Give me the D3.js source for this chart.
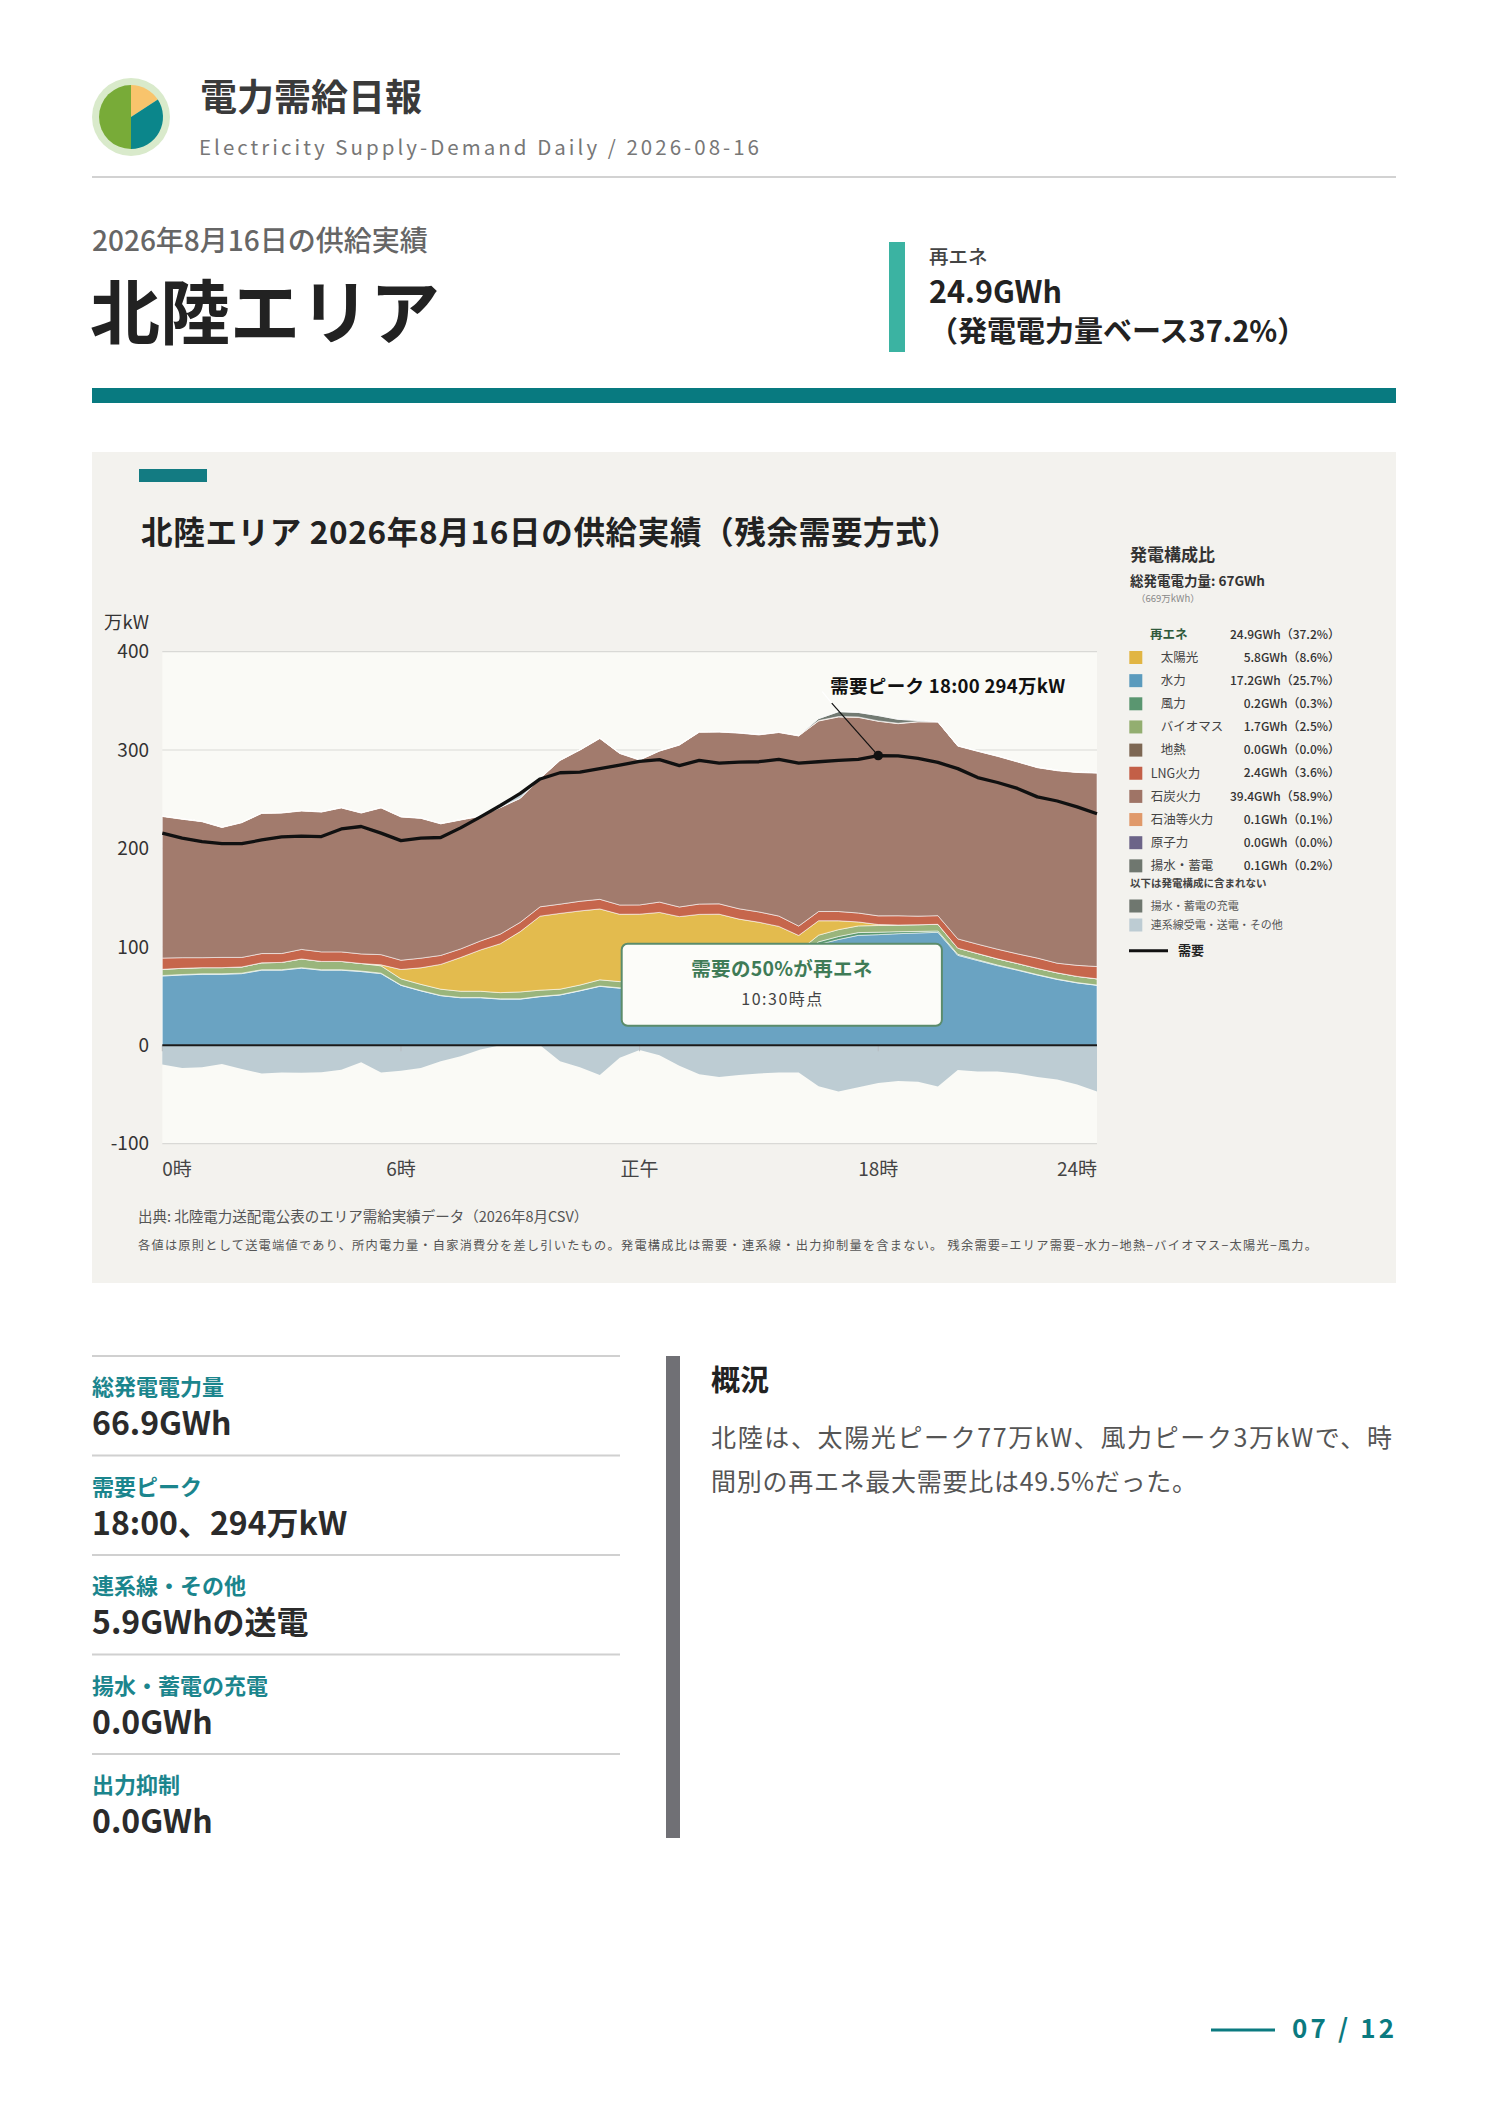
<!doctype html>
<html lang="ja">
<head>
<meta charset="utf-8">
<title>電力需給日報 北陸エリア 2026-08-16</title>
<script src="https://cdn.jsdelivr.net/npm/d3@7"></script>
<style>
  body { margin: 0; background: #fff; }
  svg { display: block; font-family: "Noto Sans CJK JP", "Noto Sans", sans-serif; }
</style>
</head>
<body>
<svg id="page" width="1488" height="2105"></svg>
<script>
// 30分値（万kW）, 0:00 〜 23:30
var demand = [215.6,210.4,206.9,204.8,204.8,208.6,211.8,212.5,212.1,219.8,222.3,215.6,207.9,210.4,211.1,220.9,232.1,243.6,255.9,270.6,276.9,277.6,281.1,284.6,288.5,290.2,284.2,289.5,286.7,287.7,288.1,290.5,286.7,288.1,289.5,290.5,294.4,294.0,291.6,287.4,281.1,272.0,267.0,261.0,252.4,248.2,242.2,235.2];
var hydro = [70.4,71.4,72.1,72.1,72.8,76.3,76.3,78.4,76.3,76.3,74.9,72.8,60.9,55.3,50.4,48.3,48.3,46.9,46.9,49.4,51.1,55.3,59.9,58.0,58.0,59.5,61.0,65.7,70.7,73.4,75.9,79.4,86.9,102.4,107.5,111.7,112.4,113.4,114.1,114.8,91.4,86.1,80.9,76.3,71.4,66.9,63.4,60.9];
var wind = [0.5,0.5,0.5,0.5,0.5,0.5,0.5,0.5,0.5,0.5,0.5,0.5,0.3,0.3,0.3,0.3,0.3,0.3,0.3,0.3,0.3,0.3,0.3,0.4,0.5,0.6,0.8,1.0,1.2,1.5,1.8,2.1,2.4,2.7,3.0,2.8,2.5,2.0,1.6,1.3,1.0,0.8,0.6,0.5,0.4,0.4,0.3,0.3];
var biomass = [6.3,6.3,6.3,6.3,6.3,7.0,7.4,8.8,8.4,8.4,7.7,7.4,6.3,6.3,6.3,6.3,6.3,6.3,7.0,6.3,5.6,5.6,6.3,6.3,6.3,6.3,6.3,6.3,6.3,6.3,6.3,6.3,6.3,6.8,7.0,6.8,6.8,6.8,6.8,6.8,6.3,6.3,6.3,6.3,6.3,6.3,6.3,6.3];
var solar = [0,0,0,0,0,0,0,0,0,0,0,1.0,9.5,16.8,25.2,34.3,42.0,49.7,61.3,75.2,77.0,75.3,72.0,68.4,68.4,68.6,62.6,60.0,55.0,47.0,41.0,33.0,16.0,14.6,9.0,4.0,1.0,0,0,0,0,0,0,0,0,0,0,0];
var lng = [11.4,10.8,10.1,10.4,9.7,9.4,9.0,9.7,9.7,9.7,9.7,10.4,9.4,9.8,9.1,8.7,9.1,9.8,9.4,9.5,9.4,9.8,9.8,9.4,9.4,10.5,9.8,10.5,10.5,10.5,10.5,10.5,9.5,9.4,9.4,9.1,8.8,9.4,8.7,8.8,9.4,9.5,9.8,9.8,10.5,9.8,11.2,12.5];
var coal = [143.9,140.7,138.2,132.0,136.9,142.4,142.8,140.7,142.1,146.3,143.2,149.1,145.6,142.1,133.7,131.0,126.7,128.5,126.0,130.5,146.0,153.6,163.4,154.0,147.2,153.4,164.5,174.6,174.6,178.5,179.9,186.5,193.2,193.6,197.7,198.8,197.7,195.2,197.4,196.7,195.9,196.0,196.0,195.0,193.5,195.6,196.0,196.6];
var oil = [0.4,0.4,0.4,0.4,0.4,0.4,0.4,0.4,0.4,0.4,0.4,0.4,0.4,0.4,0.4,0.4,0.4,0.4,0.4,0.4,0.4,0.4,0.4,0.4,0.4,0.4,0.4,0.4,0.4,0.4,0.4,0.4,0.4,0.4,0.4,0.4,0.4,0.4,0.4,0.4,0.4,0.4,0.4,0.4,0.4,0.4,0.4,0.4];
var pumped = [0,0,0,0,0,0,0,0,0,0,0,0,0,0,0,0,0,0,0,0,0,0,0,0,0,0,0,0,0,0,0,0,0,2.0,5.0,4.6,5.4,4.0,1.0,0,0,0,0,0,0,0,0,0];
var tieline = [-19.6,-23.1,-22.4,-18.9,-24.2,-28.7,-27.7,-28.0,-27.3,-24.9,-17.2,-27.7,-25.9,-23.1,-16.1,-11.2,-4.2,1.7,4.6,0.0,-16.1,-22.4,-30.1,-12.6,-4.9,-10.2,-20.7,-29.4,-32.2,-30.1,-28.7,-27.7,-27.7,-41.7,-46.9,-42.7,-38.2,-36.4,-37.1,-42.0,-25.2,-26.6,-26.6,-28.7,-32.2,-34.7,-39.9,-46.9];

var yTicks = [400, 300, 200, 100, 0, -100];
var xTicks = [0, 12, 24, 36, 47];
var xTickLabels = ["0時", "6時", "正午", "18時", "24時"];

var legendRows = [
  { key: "solar",   name: "太陽光",     value: "5.8GWh（8.6%）",   sub: true },
  { key: "hydro",   name: "水力",       value: "17.2GWh（25.7%）", sub: true },
  { key: "wind",    name: "風力",       value: "0.2GWh（0.3%）",   sub: true },
  { key: "biomass", name: "バイオマス", value: "1.7GWh（2.5%）",   sub: true },
  { key: "geo",     name: "地熱",       value: "0.0GWh（0.0%）",   sub: true },
  { key: "lng",     name: "LNG火力",    value: "2.4GWh（3.6%）",   sub: false },
  { key: "coal",    name: "石炭火力",   value: "39.4GWh（58.9%）", sub: false },
  { key: "oil",     name: "石油等火力", value: "0.1GWh（0.1%）",   sub: false },
  { key: "nuclear", name: "原子力",     value: "0.0GWh（0.0%）",   sub: false },
  { key: "pumped",  name: "揚水・蓄電", value: "0.1GWh（0.2%）",   sub: false }
];
var stats = [
  { label: "総発電電力量",     value: "66.9GWh" },
  { label: "需要ピーク",       value: "18:00、294万kW" },
  { label: "連系線・その他",   value: "5.9GWhの送電" },
  { label: "揚水・蓄電の充電", value: "0.0GWh" },
  { label: "出力抑制",         value: "0.0GWh" }
];
var logoSlices = [57, 123, 180];

var colors = {
  hydro: "#6aa3c2", wind: "#5b9870", biomass: "#9ab57c", solar: "#e3bb4e",
  geo: "#7f6852", lng: "#c6664c", coal: "#a27b6d", oil: "#e09a6b",
  nuclear: "#6d668b", pumped: "#727a72", imp: "#bdccd3"
};
var legendColors = {
  hydro: "#5b9bbd", wind: "#5a9670", biomass: "#93ae70", solar: "#e1b543",
  geo: "#7d6753", lng: "#c35f47", coal: "#9f7466", oil: "#e0996a",
  nuclear: "#6c6488", pumped: "#6f776f"
};

var svg = d3.select("#page");

// ---- header ----
var logo = svg.append("g").attr("transform", "translate(131,117)");
logo.append("circle").attr("r", 39).attr("fill", "#d9eacb");
var pie = d3.pie().sort(null)(logoSlices);
var arc = d3.arc().innerRadius(0).outerRadius(32);
logo.selectAll("path").data(pie).enter().append("path")
  .attr("d", arc)
  .attr("fill", function (d, i) { return ["#f8c46c", "#0b868b", "#78ab38"][i]; });

svg.append("text").attr("x", 200).attr("y", 111).attr("font-size", 37).attr("font-weight", 700)
  .attr("fill", "#3a3a3a").text("電力需給日報");
svg.append("text").attr("x", 199).attr("y", 155).attr("font-size", 20.5).attr("fill", "#777")
  .attr("textLength", 560).attr("lengthAdjust", "spacing")
  .text("Electricity Supply-Demand Daily / 2026-08-16");
svg.append("line").attr("x1", 92).attr("x2", 1396).attr("y1", 177).attr("y2", 177)
  .attr("stroke", "#d2d2d2").attr("stroke-width", 2);

svg.append("text").attr("x", 92).attr("y", 251).attr("font-size", 28).attr("font-weight", 500)
  .attr("fill", "#666").text("2026年8月16日の供給実績");
svg.append("text").attr("x", 90).attr("y", 339).attr("font-size", 70).attr("font-weight", 700)
  .attr("fill", "#222").text("北陸エリア");

svg.append("rect").attr("x", 889).attr("y", 242).attr("width", 16).attr("height", 110).attr("fill", "#3bb3a2");
svg.append("text").attr("x", 929).attr("y", 264).attr("font-size", 19.5).attr("font-weight", 500)
  .attr("fill", "#444").text("再エネ");
svg.append("text").attr("x", 929).attr("y", 303).attr("font-size", 30.5).attr("font-weight", 700)
  .attr("fill", "#222").text("24.9GWh");
svg.append("text").attr("x", 929).attr("y", 342).attr("font-size", 29).attr("font-weight", 700)
  .attr("fill", "#222").text("（発電電力量ベース37.2%）");
svg.append("rect").attr("x", 92).attr("y", 388).attr("width", 1304).attr("height", 15).attr("fill", "#087a80");

// ---- chart panel ----
svg.append("rect").attr("x", 92).attr("y", 452).attr("width", 1304).attr("height", 831).attr("fill", "#f3f2ee");
svg.append("rect").attr("x", 139).attr("y", 469).attr("width", 68).attr("height", 13).attr("fill", "#137b82");
svg.append("text").attr("x", 141).attr("y", 544).attr("font-size", 31.5).attr("font-weight", 600)
  .attr("fill", "#222").attr("textLength", 818).attr("lengthAdjust", "spacing")
  .text("北陸エリア 2026年8月16日の供給実績（残余需要方式）");

var x = d3.scaleLinear().domain([0, 47]).range([162.3, 1097]);
var y = d3.scaleLinear().domain([-100, 400]).range([1143.7, 651.6]);

var chart = svg.append("g");
chart.append("rect").attr("x", x(0)).attr("y", y(400)).attr("width", x(47) - x(0))
  .attr("height", y(-100) - y(400)).attr("fill", "#fafaf6");

chart.selectAll("line.grid").data(yTicks.filter(function (t) { return t !== 0; })).enter()
  .append("line").attr("class", "grid")
  .attr("x1", x(0)).attr("x2", x(47))
  .attr("y1", function (d) { return y(d); }).attr("y2", function (d) { return y(d); })
  .attr("stroke", "#d9d9d6").attr("stroke-width", 1.2);

chart.selectAll("text.ytick").data(yTicks).enter().append("text").attr("class", "ytick")
  .attr("x", 149).attr("y", function (d) { return y(d); })
  .attr("dy", "0.35em").attr("text-anchor", "end").attr("font-size", 19).attr("fill", "#333")
  .text(function (d) { return d; });
chart.append("text").attr("x", 149).attr("y", 629).attr("text-anchor", "end")
  .attr("font-size", 18.5).attr("fill", "#333").text("万kW");

// stacked supply
var rows = demand.map(function (d, i) {
  return {
    i: i, hydro: hydro[i], wind: wind[i], biomass: biomass[i], solar: solar[i],
    lng: lng[i], coal: coal[i], oil: oil[i], pumped: pumped[i],
    imp: Math.max(0, tieline[i]), exp: Math.min(0, tieline[i])
  };
});
var keys = ["hydro", "wind", "biomass", "solar", "lng", "coal", "oil", "pumped", "imp"];
var stacked = d3.stack().keys(keys)(rows);
var area = d3.area()
  .x(function (d) { return x(d.data.i); })
  .y0(function (d) { return y(d[0]); })
  .y1(function (d) { return y(d[1]); });

chart.append("path").datum(rows)
  .attr("d", d3.area().x(function (d) { return x(d.i); }).y0(y(0)).y1(function (d) { return y(d.exp); }))
  .attr("fill", colors.imp);

chart.selectAll("path.layer").data(stacked).enter().append("path").attr("class", "layer")
  .attr("d", area)
  .attr("fill", function (d) { return colors[d.key]; })
  .attr("stroke", "#ffffff").attr("stroke-width", 0.8).attr("stroke-opacity", 0.7);

chart.selectAll("line.xt").data(xTicks.slice(0, 4)).enter().append("line").attr("class", "xt")
  .attr("x1", function (d) { return x(d); }).attr("x2", function (d) { return x(d); })
  .attr("y1", y(0)).attr("y2", y(0) + 6).attr("stroke", "#b8bcc0").attr("stroke-width", 1);

chart.append("line").attr("x1", x(0)).attr("x2", x(47)).attr("y1", y(0)).attr("y2", y(0))
  .attr("stroke", "#1a1a1a").attr("stroke-width", 2);

chart.selectAll("text.xtick").data(xTicks).enter().append("text").attr("class", "xtick")
  .attr("x", function (d) { return x(d); }).attr("y", 1169).attr("dy", "0.35em")
  .attr("text-anchor", function (d, i) { return i === 0 ? "start" : (i === xTicks.length - 1 ? "end" : "middle"); })
  .attr("font-size", 19).attr("fill", "#444")
  .text(function (d, i) { return xTickLabels[i]; });

// demand line
chart.append("path").datum(demand)
  .attr("d", d3.line().x(function (d, i) { return x(i); }).y(function (d) { return y(d); }))
  .attr("fill", "none").attr("stroke", "#111").attr("stroke-width", 3.3)
  .attr("stroke-linejoin", "round");

var peakI = d3.maxIndex(demand);
chart.append("line").attr("x1", x(peakI) - 56).attr("y1", y(400) + 40)
  .attr("x2", x(peakI) - 46.5).attr("y2", y(400) + 51.5)
  .attr("stroke", "#ffffff").attr("stroke-width", 1.2);
chart.append("line").attr("x1", x(peakI) - 46.5).attr("y1", y(400) + 51.5)
  .attr("x2", x(peakI)).attr("y2", y(demand[peakI]))
  .attr("stroke", "#111").attr("stroke-width", 1.2);
chart.append("circle").attr("cx", x(peakI)).attr("cy", y(demand[peakI])).attr("r", 4.8).attr("fill", "#111");
chart.append("text").attr("x", x(peakI) - 48).attr("y", y(400) + 41.5)
  .attr("font-size", 18.5).attr("font-weight", 700).attr("fill", "#111")
  .attr("textLength", 235).attr("lengthAdjust", "spacing")
  .text("需要ピーク 18:00 " + Math.round(demand[peakI]) + "万kW");

// renewable share callout
var bx0 = x(23.1), bx1 = x(39.2), by0 = y(103.2), by1 = y(19.9);
chart.append("rect").attr("x", bx0).attr("y", by0).attr("width", bx1 - bx0).attr("height", by1 - by0)
  .attr("rx", 6).attr("fill", "#fcfcf9").attr("stroke", "#5b8c6b").attr("stroke-width", 2);
chart.append("text").attr("x", (bx0 + bx1) / 2 - 90.5).attr("y", by0 + 32)
  .attr("font-size", 19.5).attr("font-weight", 700).attr("fill", "#3f7b57")
  .attr("textLength", 181).attr("lengthAdjust", "spacing").text("需要の50%が再エネ");
chart.append("text").attr("x", (bx0 + bx1) / 2 - 40.5).attr("y", by0 + 61)
  .attr("font-size", 16).attr("fill", "#444")
  .attr("textLength", 81).attr("lengthAdjust", "spacing").text("10:30時点");

// legend
var lg = svg.append("g");
lg.append("text").attr("x", 1130).attr("y", 561).attr("font-size", 17).attr("font-weight", 700)
  .attr("fill", "#333").text("発電構成比");
lg.append("text").attr("x", 1130).attr("y", 586).attr("font-size", 13.5).attr("font-weight", 700)
  .attr("fill", "#333").text("総発電電力量: 67GWh");
lg.append("text").attr("x", 1136).attr("y", 602).attr("font-size", 9.5).attr("fill", "#888").text("（669万kWh）");
lg.append("text").attr("x", 1150).attr("y", 635).attr("dy", "0.35em").attr("font-size", 12.5)
  .attr("font-weight", 700).attr("fill", "#2f5a3c").text("再エネ");
lg.append("text").attr("x", 1340).attr("y", 635).attr("dy", "0.35em").attr("text-anchor", "end")
  .attr("font-size", 12).attr("font-weight", 500).attr("fill", "#333").text("24.9GWh（37.2%）");

var rowsG = lg.selectAll("g.row").data(legendRows).enter().append("g").attr("class", "row")
  .attr("transform", function (d, i) { return "translate(0," + (657.5 + i * 23.15) + ")"; });
rowsG.append("rect").attr("x", 1129.3).attr("y", -6.5).attr("width", 13).attr("height", 13)
  .attr("fill", function (d) { return legendColors[d.key]; });
rowsG.append("text").attr("x", function (d) { return d.sub ? 1160.7 : 1150.7; }).attr("dy", "0.35em")
  .attr("font-size", 12.5).attr("fill", "#444").text(function (d) { return d.name; });
rowsG.append("text").attr("x", 1340).attr("dy", "0.35em").attr("text-anchor", "end")
  .attr("font-size", 12).attr("font-weight", 500).attr("fill", "#333").text(function (d) { return d.value; });

lg.append("text").attr("x", 1130).attr("y", 887).attr("font-size", 10.5).attr("font-weight", 700)
  .attr("fill", "#444").text("以下は発電構成に含まれない");
lg.append("rect").attr("x", 1129.3).attr("y", 899.5).attr("width", 13).attr("height", 13).attr("fill", "#6f776f");
lg.append("text").attr("x", 1150.7).attr("y", 906).attr("dy", "0.35em").attr("font-size", 11)
  .attr("fill", "#555").text("揚水・蓄電の充電");
lg.append("rect").attr("x", 1129.3).attr("y", 918.5).attr("width", 13).attr("height", 13).attr("fill", colors.imp);
lg.append("text").attr("x", 1150.7).attr("y", 925).attr("dy", "0.35em").attr("font-size", 11)
  .attr("fill", "#555").text("連系線受電・送電・その他");
lg.append("line").attr("x1", 1129).attr("x2", 1168).attr("y1", 950.7).attr("y2", 950.7)
  .attr("stroke", "#111").attr("stroke-width", 3);
lg.append("text").attr("x", 1178).attr("y", 950.7).attr("dy", "0.35em").attr("font-size", 13)
  .attr("font-weight", 700).attr("fill", "#222").text("需要");

// footnotes
svg.append("text").attr("x", 138).attr("y", 1222).attr("font-size", 14.5).attr("fill", "#555")
  .text("出典: 北陸電力送配電公表のエリア需給実績データ（2026年8月CSV）");
svg.append("text").attr("x", 138).attr("y", 1250).attr("font-size", 12.2).attr("fill", "#555")
  .attr("textLength", 1179).attr("lengthAdjust", "spacing")
  .text("各値は原則として送電端値であり、所内電力量・自家消費分を差し引いたもの。発電構成比は需要・連系線・出力抑制量を含まない。 残余需要=エリア需要−水力−地熱−バイオマス−太陽光−風力。");

// ---- stats ----
var st = svg.selectAll("g.stat").data(stats).enter().append("g").attr("class", "stat")
  .attr("transform", function (d, i) { return "translate(92," + (1356 + i * 99.5) + ")"; });
st.append("line").attr("x1", 0).attr("x2", 528).attr("y1", 0).attr("y2", 0)
  .attr("stroke", "#d0d0d0").attr("stroke-width", 2);
st.append("text").attr("y", 39).attr("font-size", 22).attr("font-weight", 700)
  .attr("fill", "#1b858d").text(function (d) { return d.label; });
st.append("text").attr("y", 79).attr("font-size", 32).attr("font-weight", 700)
  .attr("fill", "#2b2b2b").text(function (d) { return d.value; });

// ---- summary ----
svg.append("rect").attr("x", 666).attr("y", 1356).attr("width", 14).attr("height", 482).attr("fill", "#707075");
svg.append("text").attr("x", 711).attr("y", 1391).attr("font-size", 29).attr("font-weight", 700)
  .attr("fill", "#222").text("概況");
svg.append("text").attr("x", 711).attr("y", 1447).attr("font-size", 25).attr("fill", "#555")
  .attr("textLength", 681).attr("lengthAdjust", "spacing")
  .text("北陸は、太陽光ピーク77万kW、風力ピーク3万kWで、時");
svg.append("text").attr("x", 711).attr("y", 1491).attr("font-size", 25).attr("fill", "#555")
  .attr("textLength", 486).attr("lengthAdjust", "spacing")
  .text("間別の再エネ最大需要比は49.5%だった。");

// ---- footer ----
svg.append("line").attr("x1", 1211).attr("x2", 1275).attr("y1", 2030).attr("y2", 2030)
  .attr("stroke", "#0b7a80").attr("stroke-width", 3);
svg.append("text").attr("x", 1292).attr("y", 2038).attr("font-size", 26).attr("font-weight", 700)
  .attr("fill", "#0b7a80").attr("textLength", 102).attr("lengthAdjust", "spacing").text("07 / 12");
</script>
</body>
</html>
